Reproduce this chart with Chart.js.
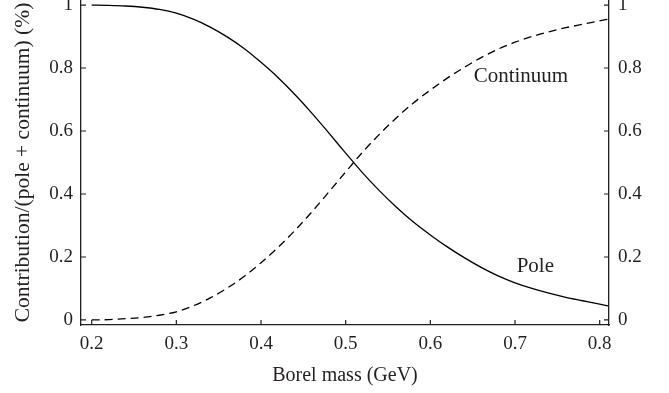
<!DOCTYPE html>
<html>
<head>
<meta charset="utf-8">
<script src="https://cdn.jsdelivr.net/npm/chart.js@4.4.1/dist/chart.umd.min.js"></script>
<style>
  html, body { margin: 0; padding: 0; background: #fff; }
</style>
</head>
<body>
<canvas id="chart" width="669" height="393"></canvas>
<script>
// values
const borelMass = [0.20, 0.22, 0.24, 0.26, 0.28, 0.30, 0.32, 0.34, 0.36, 0.38,
  0.40, 0.42, 0.44, 0.46, 0.48, 0.50, 0.52, 0.54, 0.56, 0.58,
  0.60, 0.62, 0.64, 0.66, 0.68, 0.70, 0.72, 0.74, 0.76, 0.78, 0.80, 0.81];
const poleShare = [1.000, 0.999, 0.997, 0.993, 0.986, 0.974, 0.955, 0.930, 0.899, 0.862,
  0.818, 0.770, 0.716, 0.657, 0.594, 0.530, 0.467, 0.410, 0.358, 0.311,
  0.270, 0.232, 0.198, 0.167, 0.140, 0.118, 0.100, 0.085, 0.072, 0.061, 0.050, 0.045];
const continuumShare = [0.000, 0.001, 0.004, 0.008, 0.015, 0.026, 0.045, 0.070, 0.101, 0.138,
  0.182, 0.230, 0.284, 0.343, 0.406, 0.470, 0.533, 0.590, 0.642, 0.689,
  0.730, 0.768, 0.802, 0.833, 0.860, 0.882, 0.900, 0.915, 0.928, 0.939, 0.950, 0.955];

const xTicks = [0.2, 0.3, 0.4, 0.5, 0.6, 0.7, 0.8];
const xTickLabels = ['0.2', '0.3', '0.4', '0.5', '0.6', '0.7', '0.8'];
const yTicks = [0, 0.2, 0.4, 0.6, 0.8, 1];
const yTickLabels = ['0', '0.2', '0.4', '0.6', '0.8', '1'];

const curveNames = ['Continuum', 'Pole'];
const curveNameX = [0.707, 0.724];
const curveNameY = [0.772, 0.169];

const ink = '#231f20';
const serif = '"Liberation Serif", "Times New Roman", serif';

Chart.defaults.font.family = serif;
Chart.defaults.color = ink;

function points(ys) {
  return borelMass.map((x, i) => ({x: x, y: ys[i]}));
}

function labelFor(values, labels) {
  return (value) => {
    const i = values.findIndex(v => Math.abs(v - value) < 1e-6);
    return i < 0 ? '' : labels[i];
  };
}

// ticks in the reference point into the plot, and curves carry text labels
const innerTicks = {
  id: 'innerTicks',
  afterDatasetsDraw(chart) {
    const {ctx, chartArea: a, scales} = chart;
    const len = 5;
    ctx.save();
    ctx.strokeStyle = ink;
    ctx.lineWidth = 1.2;
    ctx.beginPath();
    scales.x.ticks.forEach(t => {
      const px = scales.x.getPixelForValue(t.value);
      ctx.moveTo(px, a.bottom);
      ctx.lineTo(px, a.bottom - len);
    });
    scales.y.ticks.forEach(t => {
      const py = scales.y.getPixelForValue(t.value);
      ctx.moveTo(a.left, py);
      ctx.lineTo(a.left + len, py);
    });
    scales.y2.ticks.forEach(t => {
      const py = scales.y2.getPixelForValue(t.value);
      ctx.moveTo(a.right, py);
      ctx.lineTo(a.right - len, py);
    });
    ctx.stroke();

    ctx.fillStyle = ink;
    ctx.font = '21px ' + serif;
    ctx.textAlign = 'center';
    ctx.textBaseline = 'middle';
    curveNames.forEach((name, i) => {
      ctx.fillText(name, scales.x.getPixelForValue(curveNameX[i]), scales.y.getPixelForValue(curveNameY[i]));
    });
    ctx.restore();
  }
};

const yRange = {min: -0.016, max: 1.016};

new Chart(document.getElementById('chart').getContext('2d'), {
  type: 'line',
  data: {
    datasets: [
      {
        label: 'Pole',
        data: points(poleShare),
        borderColor: '#000',
        borderWidth: 1.3,
        pointRadius: 0,
        cubicInterpolationMode: 'monotone',
        fill: false,
      },
      {
        label: 'Continuum',
        data: points(continuumShare),
        borderColor: '#000',
        borderWidth: 1.3,
        borderDash: [8, 5],
        pointRadius: 0,
        cubicInterpolationMode: 'monotone',
        fill: false,
      },
    ],
  },
  options: {
    responsive: false,
    animation: false,
    layout: {padding: 0},
    plugins: {
      legend: {display: false},
      tooltip: {enabled: false},
    },
    scales: {
      x: {
        type: 'linear',
        position: 'bottom',
        min: 0.1874,
        max: 0.811,
        border: {display: true, color: ink, width: 1.3},
        grid: {drawOnChartArea: false, drawTicks: false},
        ticks: {padding: 8, font: {size: 19}, color: ink, callback: labelFor(xTicks, xTickLabels)},
        afterBuildTicks: (s) => { s.ticks = xTicks.map(v => ({value: v})); },
        afterFit: (s) => { s.height = 68; s.paddingLeft = 0; s.paddingRight = 0; },
        title: {display: true, text: 'Borel mass (GeV)', color: ink, font: {size: 20}, padding: {top: 0, bottom: 5}},
      },
      y: {
        type: 'linear',
        position: 'left',
        min: yRange.min,
        max: yRange.max,
        border: {display: true, color: ink, width: 1.3},
        grid: {drawOnChartArea: false, drawTicks: false},
        ticks: {padding: 8, font: {size: 19}, color: ink, callback: labelFor(yTicks, yTickLabels)},
        afterBuildTicks: (s) => { s.ticks = yTicks.map(v => ({value: v})); },
        afterFit: (s) => { s.width = 81; s.paddingTop = 0; s.paddingBottom = 0; },
        title: {display: true, text: 'Contribution/(pole + continuum) (%)', color: ink, font: {size: 21.5}, padding: {top: 10, bottom: 0}},
      },
      y2: {
        type: 'linear',
        position: 'right',
        min: yRange.min,
        max: yRange.max,
        border: {display: true, color: ink, width: 1.3},
        grid: {drawOnChartArea: false, drawTicks: false},
        ticks: {padding: 9, font: {size: 19}, color: ink, callback: labelFor(yTicks, yTickLabels)},
        afterBuildTicks: (s) => { s.ticks = yTicks.map(v => ({value: v})); },
        afterFit: (s) => { s.width = 60; s.paddingTop = 0; s.paddingBottom = 0; },
      },
    },
  },
  plugins: [innerTicks],
});
</script>
</body>
</html>
